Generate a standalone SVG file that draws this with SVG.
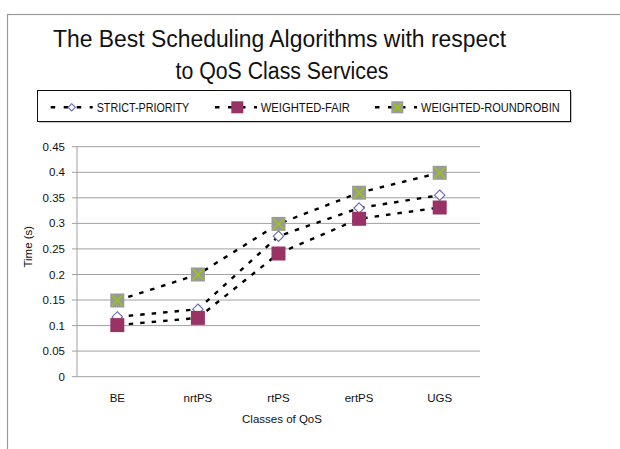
<svg xmlns="http://www.w3.org/2000/svg" xmlns:xlink="http://www.w3.org/1999/xlink" width="620" height="449" viewBox="0 0 620 449">
<style>
.t{font-family:"Liberation Sans",Arial,sans-serif;fill:#111}
.title{font-size:23px}
.leg{font-size:13px}
.ax{font-size:11.5px}
.grid{stroke:#a0a0a0;stroke-width:1;fill:none}
.ser{fill:none;stroke:#000;stroke-width:2.4;stroke-dasharray:4.5 7}
.legline{fill:none;stroke:#000;stroke-width:2.6;stroke-dasharray:4.5 8.5}
</style>
<defs>
<g id="mSP"><path d="M0,-5.2 L5.2,0 L0,5.2 L-5.2,0 Z" fill="#fff" stroke="#6a6ab4" stroke-width="1.1"/></g>
<g id="mWF"><rect x="-7" y="-7" width="14" height="14" fill="#993366"/></g>
<g id="mRR"><rect x="-7" y="-7" width="14" height="14" fill="#999999"/><path d="M-5.5,-5.5 L5.5,5.5 M5.5,-5.5 L-5.5,5.5" stroke="#99cc00" stroke-width="1.4"/></g>
<g id="lSP"><path d="M0,-3.6 L3.6,0 L0,3.6 L-3.6,0 Z" fill="#fff" stroke="#6a6ab4" stroke-width="1.1"/></g>
<g id="lWF"><rect x="-6" y="-6" width="12" height="12" fill="#993366"/></g>
<g id="lRR"><rect x="-6" y="-6" width="12" height="12" fill="#999999"/><path d="M-4.5,-4.5 L4.5,4.5 M4.5,-4.5 L-4.5,4.5" stroke="#99cc00" stroke-width="1.3"/></g>
</defs>
<rect width="620" height="449" fill="#fff"/>
<g id="frame"><rect x="7.5" y="14.5" width="700" height="500" fill="none" stroke="#9a9a9a" stroke-width="1.2"/></g>
<g id="title">
<text class="t title" x="53" y="46.7" textLength="453" lengthAdjust="spacingAndGlyphs">The Best Scheduling Algorithms with respect</text>
<text class="t title" x="175.5" y="79.3" textLength="213" lengthAdjust="spacingAndGlyphs">to QoS Class Services</text>
</g>
<g id="legend">
<rect x="39" y="92" width="533" height="31" fill="#c8c8c8"/>
<rect x="37.5" y="90.5" width="533" height="31" fill="#fff" stroke="#111" stroke-width="1"/>
<g id="leg-sp">
<line class="legline" x1="50.7" y1="107.3" x2="92.7" y2="107.3"/>
<use xlink:href="#lSP" x="71.7" y="107.3"/>
<text class="t leg" x="96.7" y="111.7" textLength="92.6" lengthAdjust="spacingAndGlyphs">STRICT-PRIORITY</text>
</g>
<g id="leg-wf">
<line class="legline" x1="215" y1="107.3" x2="257" y2="107.3"/>
<use xlink:href="#lWF" x="237.3" y="107.3"/>
<text class="t leg" x="260.7" y="111.7" textLength="89.3" lengthAdjust="spacingAndGlyphs">WEIGHTED-FAIR</text>
</g>
<g id="leg-rr">
<line class="legline" x1="375" y1="107.3" x2="417" y2="107.3"/>
<use xlink:href="#lRR" x="397.3" y="107.3"/>
<text class="t leg" x="421" y="111.7" textLength="138.8" lengthAdjust="spacingAndGlyphs">WEIGHTED-ROUNDROBIN</text>
</g>
</g>
<g id="grid">
<path class="grid" d="M72,146.7H480 M72,172.3H480 M72,197.8H480 M72,223.4H480 M72,248.9H480 M72,274.5H480 M72,300H480 M72,325.6H480 M72,351.1H480 M72,376.7H480 M77,146.7V376.7"/>
</g>
<g id="yaxis" class="t ax" text-anchor="end">
<text x="65" y="150.7">0.45</text>
<text x="65" y="176.3">0.4</text>
<text x="65" y="201.8">0.35</text>
<text x="65" y="227.4">0.3</text>
<text x="65" y="252.9">0.25</text>
<text x="65" y="278.5">0.2</text>
<text x="65" y="304">0.15</text>
<text x="65" y="329.6">0.1</text>
<text x="65" y="355.1">0.05</text>
<text x="65" y="380.7">0</text>
</g>
<text id="ytitle" class="t ax" text-anchor="middle" transform="translate(32,246.7) rotate(-90)">Time (s)</text>
<g id="xaxis" class="t ax" text-anchor="middle">
<text x="117.3" y="401.7">BE</text>
<text x="197.9" y="401.7">nrtPS</text>
<text x="278.5" y="401.7">rtPS</text>
<text x="359.1" y="401.7">ertPS</text>
<text x="439.7" y="401.7">UGS</text>
</g>
<text id="xtitle" class="t ax" x="282" y="422.5" text-anchor="middle">Classes of QoS</text>
<g id="connectors">
<polyline id="line-sp" class="ser" points="117.3,316.9 197.9,309.2 278.5,236.2 359.1,208 439.7,195.2"/>
<polyline id="line-wf" class="ser" points="117.3,325.1 197.9,317.9 278.5,253.5 359.1,218.8 439.7,207.5"/>
<polyline id="line-rr" class="ser" points="117.3,300.5 197.9,274.5 278.5,223.9 359.1,192.7 439.7,172.8"/>
</g>
<g id="series-sp">
<use xlink:href="#mSP" x="117.3" y="316.9"/>
<use xlink:href="#mSP" x="197.9" y="309.2"/>
<use xlink:href="#mSP" x="278.5" y="236.2"/>
<use xlink:href="#mSP" x="359.1" y="208"/>
<use xlink:href="#mSP" x="439.7" y="195.2"/>
</g>
<g id="series-wf">
<use xlink:href="#mWF" x="117.3" y="325.1"/>
<use xlink:href="#mWF" x="197.9" y="317.9"/>
<use xlink:href="#mWF" x="278.5" y="253.5"/>
<use xlink:href="#mWF" x="359.1" y="218.8"/>
<use xlink:href="#mWF" x="439.7" y="207.5"/>
</g>
<g id="series-rr">
<use xlink:href="#mRR" x="117.3" y="300.5"/>
<use xlink:href="#mRR" x="197.9" y="274.5"/>
<use xlink:href="#mRR" x="278.5" y="223.9"/>
<use xlink:href="#mRR" x="359.1" y="192.7"/>
<use xlink:href="#mRR" x="439.7" y="172.8"/>
</g>
</svg>
